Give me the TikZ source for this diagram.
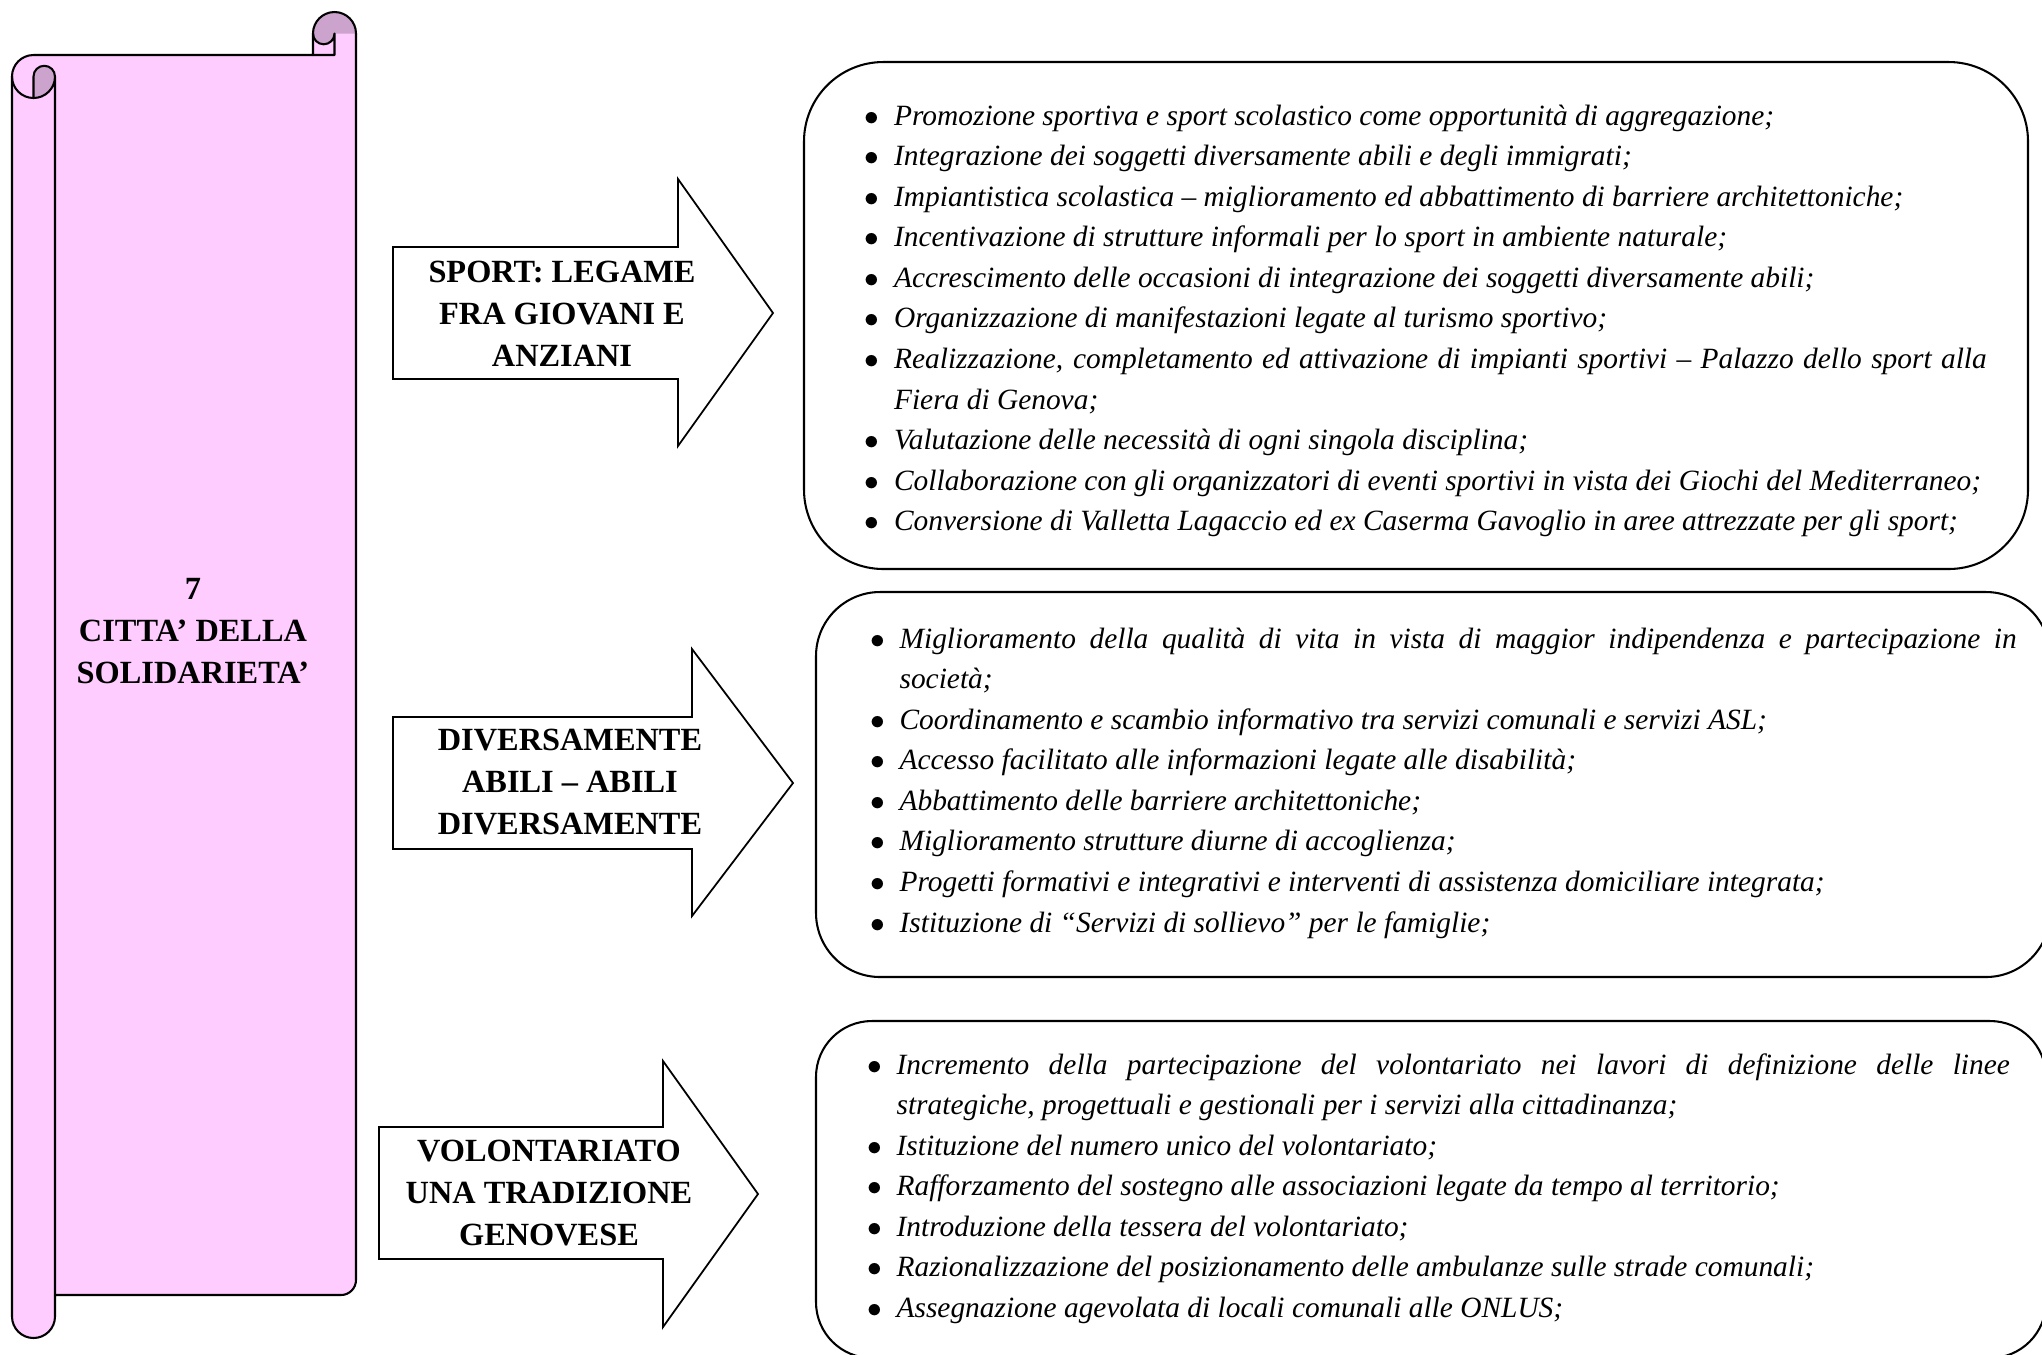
\documentclass[tikz,border=0pt]{standalone}
\usepackage{fontspec}
\setmainfont{Liberation Serif}
\definecolor{rotolo}{RGB}{255,204,255}
\definecolor{rotoloscuro}{RGB}{204,163,204}
\newlength{\rientro}\setlength{\rientro}{8.5pt}
\newcommand{\voce}[1]{\hangindent=\rientro\hangafter=1\noindent\makebox[\rientro][l]{\kern-1.4pt$\bullet$}#1\par}
\tikzset{
  freccia/.style={draw=black,line width=0.6pt,fill=white,line join=miter},
  riquadro/.style={draw=black,line width=0.7pt},
  titolo/.style={font=\bfseries\fontsize{11}{14.3}\selectfont,align=center,inner sep=0pt},
  elenco/.style={font=\itshape\fontsize{10}{13.8}\selectfont,align=justify,inner sep=0pt,anchor=base west},
}
\begin{document}
\begin{tikzpicture}[x=0.34pt,y=-0.34pt,line cap=round,line join=round]
	\useasboundingbox (0,0) rectangle (2042,1354);
	\clip (0,0) rectangle (2042,1354);
	% rotolo
	\fill[rotolo] (356,33.5) -- (356,1280) arc[start angle=0,end angle=90,radius=15] -- (55,1295) -- (55,1316.5) arc[start angle=0,end angle=180,radius=21.5] -- (12,76.5) arc[start angle=180,end angle=270,radius=21.5] -- (313,55) -- (313,33.5) arc[start angle=180,end angle=360,radius=21.5] -- cycle;
	\fill[rotoloscuro] (313,33.5) arc[start angle=180,end angle=360,radius=21.5] -- (334.5,33.5) arc[start angle=0,end angle=180,radius=10.75] -- cycle;
	\fill[rotoloscuro] (33.5,98) -- (33.5,76.5) arc[start angle=180,end angle=360,radius=10.75] arc[start angle=0,end angle=90,radius=21.5] -- cycle;
	\draw[line width=0.7pt] (356,33.5) -- (356,1280) arc[start angle=0,end angle=90,radius=15] -- (55,1295) -- (55,1316.5) arc[start angle=0,end angle=180,radius=21.5] -- (12,76.5) arc[start angle=180,end angle=270,radius=21.5] -- (313,55) -- (313,33.5) arc[start angle=180,end angle=360,radius=21.5];
	\draw[line width=0.7pt] (55,1295) -- (55,76.5) arc[start angle=0,end angle=180,radius=21.5];
	\draw[line width=0.7pt] (33.5,98) -- (33.5,76.5) arc[start angle=180,end angle=360,radius=10.75];
	\draw[line width=0.7pt] (313,33.5) arc[start angle=180,end angle=0,radius=10.75] -- (334.5,55) -- (313,55);
	\node[titolo] (tema) at (193,631) {7\\CITTA’ DELLA\\SOLIDARIETA’};
	% frecce
	\draw[freccia] (393,247) -- (678,247) -- (678,179) -- (773,313) -- (678,446) -- (678,379) -- (393,379) -- cycle;
	\node[titolo] (sport) at (562,314) {SPORT: LEGAME\\FRA GIOVANI E\\ANZIANI};
	\draw[freccia] (393,717) -- (692,717) -- (692,649) -- (793,783) -- (692,916) -- (692,849) -- (393,849) -- cycle;
	\node[titolo] (abili) at (570,782) {DIVERSAMENTE\\ABILI – ABILI\\DIVERSAMENTE};
	\draw[freccia] (379,1127) -- (663,1127) -- (663,1061) -- (758,1194) -- (663,1327) -- (663,1259) -- (379,1259) -- cycle;
	\node[titolo] (volontari) at (549,1193) {VOLONTARIATO\\UNA TRADIZIONE\\GENOVESE};
	% riquadri
	\draw[riquadro,rounded corners=27pt] (804,62) rectangle (2028,569);
	\draw[riquadro,rounded corners=21.8pt] (816,592) rectangle (2050,977);
	\draw[riquadro,rounded corners=19pt] (816,1021) rectangle (2046,1358);
	\node[elenco,text width=380pt] (sportlista) at (868.5,125) {%
		\voce{Promozione sportiva e sport scolastico come opportunità di aggregazione;}
		\voce{Integrazione dei soggetti diversamente abili e degli immigrati;}
		\voce{Impiantistica scolastica – miglioramento ed abbattimento di barriere architettoniche;}
		\voce{Incentivazione di strutture informali per lo sport in ambiente naturale;}
		\voce{Accrescimento delle occasioni di integrazione dei soggetti diversamente abili;}
		\voce{Organizzazione di manifestazioni legate al turismo sportivo;}
		\voce{Realizzazione, completamento ed attivazione di impianti sportivi – Palazzo dello sport alla\linebreak Fiera di Genova;}
		\voce{Valutazione delle necessità di ogni singola disciplina;}
		\voce{Collaborazione con gli organizzatori di eventi sportivi in vista dei Giochi del Mediterraneo;}
		\voce{Conversione di Valletta Lagaccio ed ex Caserma Gavoglio in aree attrezzate per gli sport;}};
	\node[elenco,text width=388.3pt] (abililista) at (874,648) {%
		\voce{Miglioramento della qualità di vita in vista di maggior indipendenza e partecipazione in\linebreak società;}
		\voce{Coordinamento e scambio informativo tra servizi comunali e servizi ASL;}
		\voce{Accesso facilitato alle informazioni legate alle disabilità;}
		\voce{Abbattimento delle barriere architettoniche;}
		\voce{Miglioramento strutture diurne di accoglienza;}
		\voce{Progetti formativi e integrativi e interventi di assistenza domiciliare integrata;}
		\voce{Istituzione di “Servizi di sollievo” per le famiglie;}};
	\node[elenco,text width=387pt] (volontarilista) at (871,1074) {%
		\voce{Incremento della partecipazione del volontariato nei lavori di definizione delle linee\linebreak strategiche, progettuali e gestionali per i servizi alla cittadinanza;}
		\voce{Istituzione del numero unico del volontariato;}
		\voce{Rafforzamento del sostegno alle associazioni legate da tempo al territorio;}
		\voce{Introduzione della tessera del volontariato;}
		\voce{Razionalizzazione del posizionamento delle ambulanze sulle strade comunali;}
		\voce{Assegnazione agevolata di locali comunali alle ONLUS;}};
\end{tikzpicture}
\end{document}
